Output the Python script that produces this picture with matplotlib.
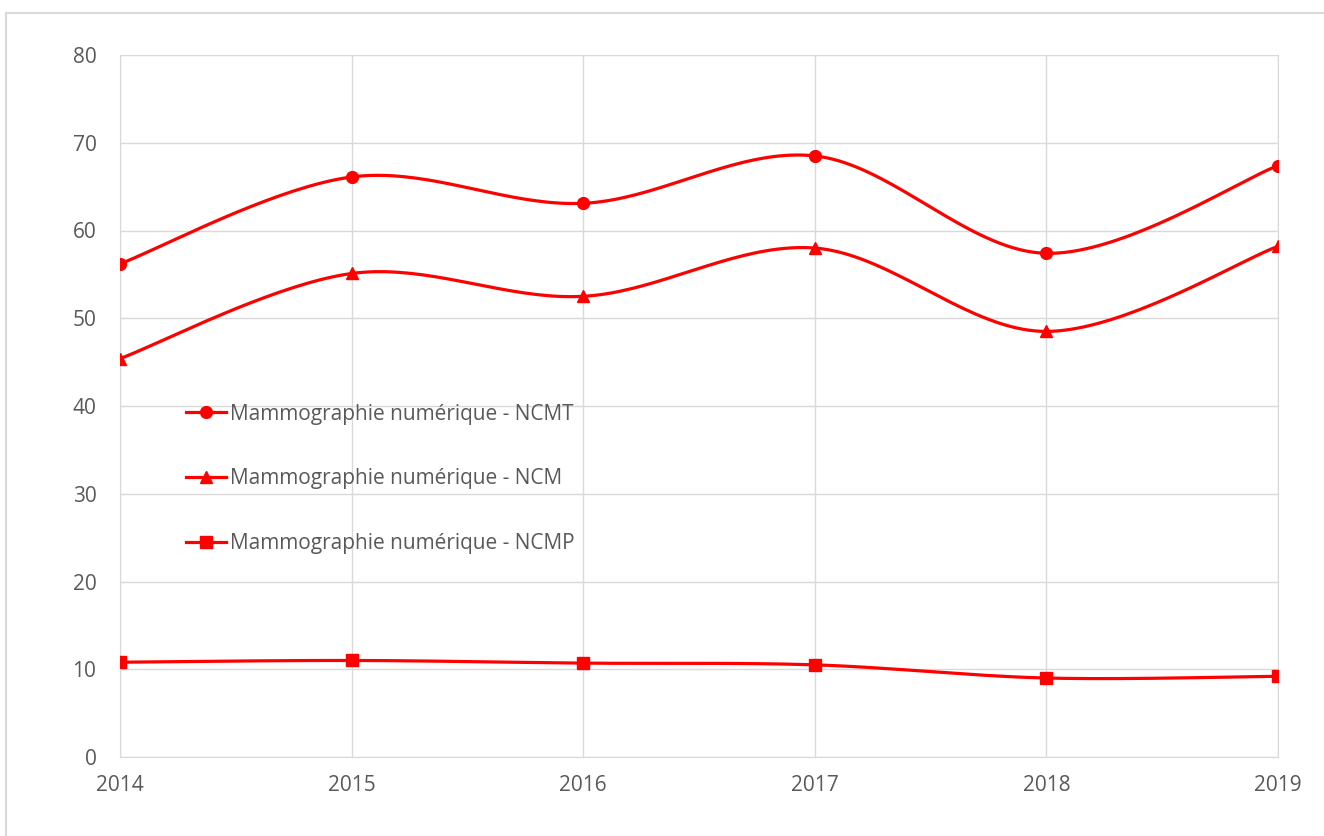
import numpy as np
import matplotlib.pyplot as plt
from matplotlib.lines import Line2D
from matplotlib.patches import Rectangle

plt.rcParams['font.family'] = ['Open Sans', 'DejaVu Sans']

# data
years = [2014, 2015, 2016, 2017, 2018, 2019]
ncmt = [56.2, 66.1, 63.1, 68.5, 57.4, 67.4]
ncm = [45.4, 55.1, 52.5, 58.0, 48.5, 58.2]
ncmp = [10.8, 11.0, 10.7, 10.5, 9.0, 9.2]
labels = ["Mammographie numérique - NCMT",
          "Mammographie numérique - NCM",
          "Mammographie numérique - NCMP"]
markers = ["o", "^", "s"]


def smooth(x, y, n=40):
    # Catmull-Rom curve through the points (like Excel "smoothed line")
    x = np.asarray(x, float)
    y = np.asarray(y, float)
    px = np.concatenate([[x[0]], x, [x[-1]]])
    py = np.concatenate([[y[0]], y, [y[-1]]])
    xs, ys = [], []
    t = np.linspace(0, 1, n)
    for i in range(1, len(px) - 2):
        for p, out in ((px, xs), (py, ys)):
            p0, p1, p2, p3 = p[i - 1], p[i], p[i + 1], p[i + 2]
            out.extend(0.5 * ((2 * p1) + (-p0 + p2) * t
                              + (2 * p0 - 5 * p1 + 4 * p2 - p3) * t ** 2
                              + (-p0 + 3 * p1 - 3 * p2 + p3) * t ** 3))
    return np.array(xs), np.array(ys)


fig = plt.figure(figsize=(13.24, 8.36), dpi=100)
ax = fig.add_axes([120 / 1324, 1 - 757 / 836, 1158 / 1324, 702 / 836])

# light frame round the chart area
fig.patches.append(Rectangle((6 / 1324, -0.1), 1.2, 1 - 13 / 836 + 0.1,
                             transform=fig.transFigure, fill=False,
                             edgecolor="#d9d9d9", linewidth=1.5))

red = "#ff0000"
handles = []
for vals, m, lab in zip([ncmt, ncm, ncmp], markers, labels):
    sx, sy = smooth(years, vals)
    ax.plot(sx, sy, color=red, linewidth=2.3, zorder=3)
    ax.plot(years, vals, linestyle="none", marker=m, color=red,
            markersize=8.5, zorder=4)
    handles.append(Line2D([], [], color=red, linewidth=2.3, marker=m,
                          markersize=8.5, label=lab))

ax.set_xlim(2014, 2019)
ax.set_ylim(0, 80)
ax.set_yticks(range(0, 81, 10))
ax.set_xticks(years)
ax.grid(True, color="#d9d9d9", linewidth=1)
ax.set_axisbelow(True)
for s in ax.spines.values():
    s.set_color("#d9d9d9")
ax.tick_params(length=0, labelsize=15, labelcolor="#595959")
ax.tick_params(axis="y", pad=17)
ax.tick_params(axis="x", pad=13)

ax.legend(handles=handles, loc="upper left", bbox_to_anchor=(0.041, 0.530),
          frameon=False, fontsize=15, labelcolor="#595959",
          labelspacing=2.1, handlelength=1.9, handletextpad=0.2)

fig.savefig("out.png", dpi=100)
